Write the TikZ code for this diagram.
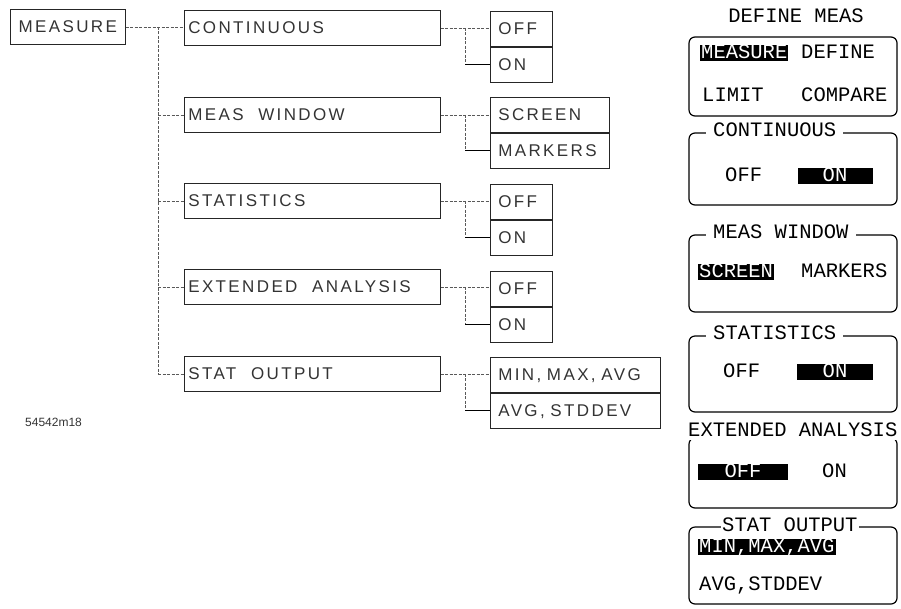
\documentclass[tikz,border=0pt]{standalone}
\usepackage{fontspec}
\usetikzlibrary{positioning}
\newfontfamily\plotfont[LetterSpace=14]{Liberation Sans}
\newfontfamily\lcdfont{Liberation Mono}
\newfontfamily\tagfont{Liberation Sans}
\newcommand\treefont{\plotfont\fontsize{17}{19}\selectfont}
\newcommand\wgap{\hspace{9pt}}
\tikzset{menu/.style={x=1pt,y=-1pt}}
\tikzset{tbox/.style={draw=black!85,line width=0.6pt,anchor=north west,minimum height=35pt,
           inner xsep=4pt,text width=248pt,align=left,text=black!80,
           font=\treefont,text height=12.2pt,text depth=0pt},
         obox/.style={tbox,inner xsep=8pt,text width=#1},
         lnk/.style={black!65,line width=0.6pt,dash pattern=on 3pt off 1.5pt},
         lnkon/.style={black,line width=0.6pt}}
\tikzset{pbox/.style={line width=1.2pt,rounded corners=6pt},
         lcd/.style={font=\lcdfont\fontsize{20.5}{22}\selectfont,inner sep=0pt,anchor=west,
           text height=11.7pt,text depth=0pt},
         inv/.style={lcd,fill=black,text=white,inner xsep=1pt,inner ysep=1.8pt},
         ptitle/.style={lcd,fill=white,inner xsep=7pt,inner ysep=3pt}}

\begin{document}
\begin{tikzpicture}[menu]
    \useasboundingbox (0,0) rectangle (901,608);
    \coordinate (trunk) at (158,0);
    \coordinate (fork) at (465,0);
    % menu tree
    \node[tbox,text width=107pt,align=center] (meas) at (10,9) {MEASURE};
    \node[tbox] (cont) at (184,10)  {CONTINUOUS};
    \node[tbox] (mwin) at (184,97)  {MEAS \wgap WINDOW};
    \node[tbox] (stat) at (184,183) {STATISTICS};
    \node[tbox] (ext)  at (184,269) {EXTENDED \wgap ANALYSIS};
    \node[tbox] (sout) at (184,356) {STAT \wgap OUTPUT};
    \node[obox=46pt]  (contoff) at (490,11)  {OFF};
    \node[obox=46pt,below=0pt of contoff] (conton) {ON};
    \node[obox=103pt] (mwinscr) at (490,97)  {SCREEN};
    \node[obox=103pt,below=0pt of mwinscr] (mwinmrk) {MARKERS};
    \node[obox=46pt]  (statoff) at (490,184) {OFF};
    \node[obox=46pt,below=0pt of statoff] (staton) {ON};
    \node[obox=46pt]  (extoff)  at (490,271) {OFF};
    \node[obox=46pt,below=0pt of extoff] (exton) {ON};
    \node[obox=154pt] (soutmin) at (490,357) {MIN, MAX, AVG};
    \node[obox=154pt,below=0pt of soutmin] (soutavg) {AVG, STDDEV};
    \draw[lnk] (meas.east) -- (meas.east -| cont.west);
    \draw[lnk] (meas.east -| trunk) -- (sout.west -| trunk);
    \foreach \b in {mwin,stat,ext,sout}
      \draw[lnk] (\b.west -| trunk) -- (\b.west);
    \foreach \b/\o/\p in {cont/contoff/conton,mwin/mwinscr/mwinmrk,stat/statoff/staton,
                          ext/extoff/exton,sout/soutmin/soutavg} {
      \draw[lnk] (\b.east) -- (\b.east -| \o.west);
      \draw[lnk] (\b.east -| fork) -- (\p.west -| fork);
      \draw[lnkon] (\p.west -| fork) -- (\p.west);
    }
    \node[font=\tagfont\fontsize{12}{14}\selectfont,text=black!80,anchor=west,inner sep=0pt] (tag) at (25,422) {54542m18};
    % softkey screens
    \node[lcd,anchor=center] (ptop) at (796,17) {DEFINE MEAS};
    \draw[pbox] (689,37) rectangle (897,116);
    \node[inv] (kmeas) at (700,53) {MEASURE};
    \node[lcd] (kdef) at (801,53) {DEFINE};
    \node[lcd] (klim) at (702,96) {LIMIT};
    \node[lcd] (kcmp) at (801,96) {COMPARE};
    \draw[pbox] (689,133) rectangle (897,205);
    \node[ptitle] (pcont) at (706,131) {CONTINUOUS};
    \node[lcd] (kcoff) at (725,176) {OFF};
    \node[inv,anchor=center,minimum width=75pt] (kcon) at (835,176) {ON};
    \draw[pbox] (689,235) rectangle (897,312);
    \node[ptitle] (pmwin) at (706,233) {MEAS WINDOW};
    \node[inv] (kscr) at (698,272) {SCREEN};
    \node[lcd] (kmrk) at (801,272) {MARKERS};
    \draw[pbox] (689,336) rectangle (897,412);
    \node[ptitle] (pstat) at (706,334) {STATISTICS};
    \node[lcd] (ksoff) at (723,372) {OFF};
    \node[inv,anchor=center,minimum width=76pt] (kson) at (835,372) {ON};
    \draw[pbox] (689,438) rectangle (897,508);
    \node[ptitle,inner xsep=1pt] (pext) at (687,431) {EXTENDED ANALYSIS};
    \node[inv,anchor=center,minimum width=90pt] (keoff) at (743,472) {OFF};
    \node[lcd] (keon) at (822,472) {ON};
    \draw[pbox] (689,527) rectangle (897,604);
    \node[ptitle,inner xsep=1pt] (psout) at (721,526) {STAT OUTPUT};
    \node[inv] (kmin) at (698,547) {MIN,MAX,AVG};
    \node[lcd] (kavg) at (699,585) {AVG,STDDEV};
\end{tikzpicture}
\end{document}
